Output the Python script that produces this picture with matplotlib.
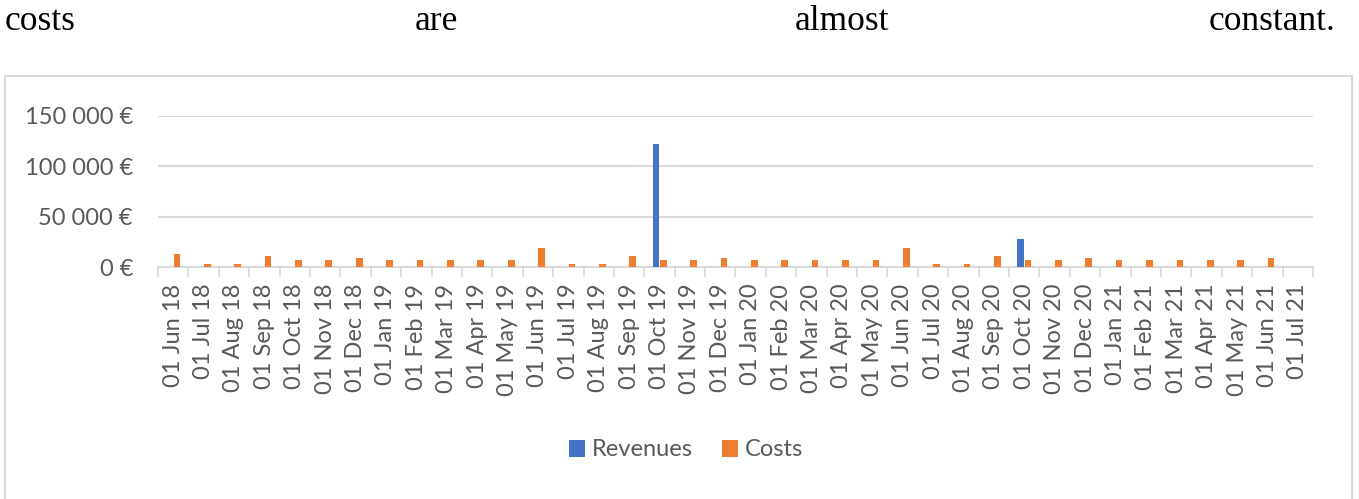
import numpy as np
import matplotlib.pyplot as plt
from matplotlib.patches import Rectangle

# ---- data (monthly)
months = ["01 Jun 18", "01 Jul 18", "01 Aug 18", "01 Sep 18", "01 Oct 18", "01 Nov 18",
          "01 Dec 18", "01 Jan 19", "01 Feb 19", "01 Mar 19", "01 Apr 19", "01 May 19",
          "01 Jun 19", "01 Jul 19", "01 Aug 19", "01 Sep 19", "01 Oct 19", "01 Nov 19",
          "01 Dec 19", "01 Jan 20", "01 Feb 20", "01 Mar 20", "01 Apr 20", "01 May 20",
          "01 Jun 20", "01 Jul 20", "01 Aug 20", "01 Sep 20", "01 Oct 20", "01 Nov 20",
          "01 Dec 20", "01 Jan 21", "01 Feb 21", "01 Mar 21", "01 Apr 21", "01 May 21",
          "01 Jun 21", "01 Jul 21"]
revenues = [0, 0, 0, 0, 0, 0, 0, 0, 0, 0, 0, 0,
            0, 0, 0, 0, 122000, 0, 0, 0, 0, 0, 0, 0,
            0, 0, 0, 0, 28000, 0, 0, 0, 0, 0, 0, 0,
            0, 0]
costs = [13000, 3000, 3000, 11000, 7000, 7000, 9000, 7000, 7000, 7000, 7000, 7000,
         19000, 3000, 3000, 11000, 7000, 7000, 9000, 7000, 7000, 7000, 7000, 7000,
         19000, 3000, 3000, 11000, 7000, 7000, 9000, 7000, 7000, 7000, 7000, 7000,
         9000, 0]
y_ticks = [0, 50000, 100000, 150000]
y_labels = ["0 €", "50 000 €", "100 000 €", "150 000 €"]

W, H = 1359, 499
fig = plt.figure(figsize=(W / 100, H / 100), dpi=100)
fig.patch.set_facecolor("white")

# ---- running text above the chart (justified line)
serif = "Liberation Serif"
fig.text(5 / W, 1 - 30 / H, "costs", family=serif, size=25.5, ha="left", va="baseline")
fig.text(436 / W, 1 - 30 / H, "are", family=serif, size=25.5, ha="center", va="baseline")
fig.text(842 / W, 1 - 30 / H, "almost", family=serif, size=25.5, ha="center", va="baseline")
fig.text(1336 / W, 1 - 30 / H, "constant.", family=serif, size=25.5, ha="right", va="baseline")

# chart frame
fig.add_artist(Rectangle((5 / W, -0.01), 1347 / W, 1 - 76 / H + 0.01,
                         transform=fig.transFigure, fill=False,
                         edgecolor="#d9d9d9", lw=1.5))

left, right = 158 / W, 1313 / W
bottom, top = 1 - 267 / H, 1 - 116 / H
ax = fig.add_axes([left, bottom, right - left, top - bottom])

x = np.arange(len(months))
bw = 0.22
ax.bar(x - 0.12, revenues, width=bw, color="#4472C4", label="Revenues", zorder=3)
ax.bar(x + 0.12, costs, width=bw, color="#ED7D31", label="Costs", zorder=3)

ax.set_xlim(-0.5, len(months) - 0.5)
ax.set_ylim(0, 150000)
ax.set_yticks(y_ticks)
ax.set_yticklabels(y_labels)
ax.set_xticks(x)
ax.set_xticklabels(months, rotation=90)
ax.set_xticks(np.arange(len(months) + 1) - 0.5, minor=True)

txt_col = "#595959"
font = "Lato"
ax.tick_params(axis="x", which="major", length=0, pad=12, labelsize=17,
               labelcolor=txt_col)
ax.tick_params(axis="x", which="minor", length=7, width=1.2, color="#d9d9d9")
ax.tick_params(axis="y", length=0, pad=18, labelsize=17, labelcolor=txt_col)
for lab in ax.get_xticklabels() + ax.get_yticklabels():
    lab.set_family(font)

ax.grid(axis="y", color="#d9d9d9", lw=1.5, zorder=0)
for s in ("top", "right", "left"):
    ax.spines[s].set_visible(False)
ax.spines["bottom"].set_color("#d9d9d9")
ax.spines["bottom"].set_linewidth(1.5)

leg = fig.legend(loc="center", bbox_to_anchor=(686 / W, 1 - 450 / H), ncol=2,
                 frameon=False, handlelength=0.7, handleheight=0.7,
                 handletextpad=0.3, columnspacing=1.2,
                 prop={"family": font, "size": 17})
for t in leg.get_texts():
    t.set_color(txt_col)

fig.savefig("out.png", dpi=100)
